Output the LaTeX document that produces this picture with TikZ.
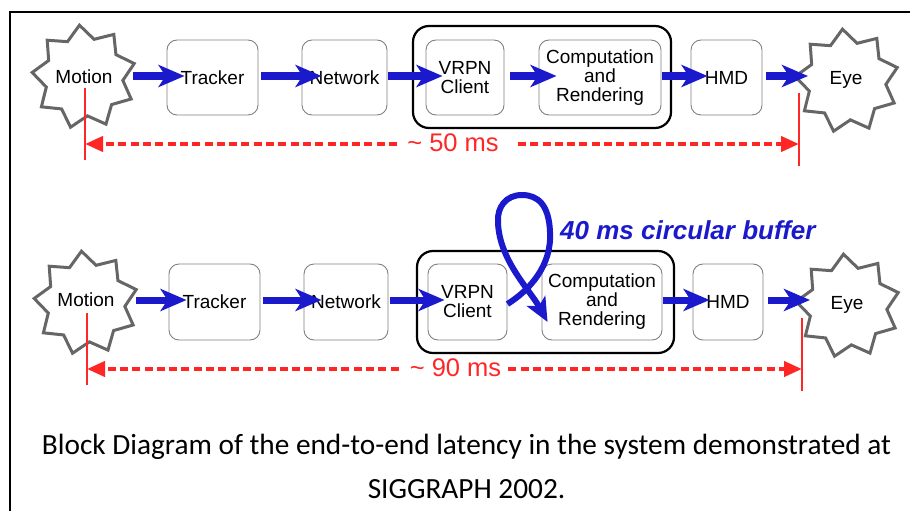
\documentclass[tikz,border=0pt]{standalone}
\usepackage{fontspec}
\setmainfont{Liberation Sans}
\newfontfamily\capfont{Carlito}
\usetikzlibrary{arrows.meta}
\definecolor{ablue}{RGB}{26,26,204}
\definecolor{ared}{RGB}{255,38,38}
\definecolor{sgray}{RGB}{102,102,102}
\definecolor{bgray}{RGB}{128,128,128}
\begin{document}
\begin{tikzpicture}[x=1pt,y=-1pt,
  box/.style={draw=bgray,line width=0.9pt,rounded corners=10pt,align=center,inner sep=0pt,font=\fontsize{19}{19}\selectfont},
  group/.style={draw=black,line width=2.2pt,rounded corners=16pt,inner sep=0pt},
  burst/.style={inner sep=0pt,font=\fontsize{19}{19}\selectfont},
  burstline/.style={draw=sgray,line width=3pt,line join=miter,miter limit=10},
  barrow/.style={draw=ablue,line width=7pt,-{Stealth[length=26pt,width=22pt,inset=7pt]}},
  rdash/.style={draw=ared,line width=4pt,dash pattern=on 8pt off 4.3pt,-{Triangle[length=18pt,width=15pt]}},
  rtick/.style={draw=ared,line width=1.6pt},
  rlab/.style={text=ared,inner sep=0pt,font=\fontsize{25.5}{25.5}\selectfont}
]
\useasboundingbox (0,0) rectangle (910,511);
% frame
\draw[line width=2pt] (10,511) -- (10,12) -- (910,12);

% ---------- row 1 ----------
\node[group,minimum width=258pt,minimum height=102pt] (o1) at (542,77) {};
\node[burst] (m1) at (84,77) {Motion};
\node[box,minimum width=91pt,minimum height=75pt] (t1) at (212.5,77.5) {Tracker};
\node[box,minimum width=85pt,minimum height=75pt] (n1) at (344.5,77.5) {Network};
\node[box,minimum width=78pt,minimum height=75pt] (v1) at (465,77.5) {VRPN\\Client};
\node[box,minimum width=122pt,minimum height=75pt] (c1) at (600,77.5) {Computation\\and\\Rendering};
\node[box,minimum width=71pt,minimum height=75pt] (h1) at (726.5,77.5) {HMD};
\node[burst] (e1) at (846,80) {Eye};

% ---------- row 2 ----------
\node[group,minimum width=257pt,minimum height=102pt] (o2) at (545.5,302) {};
\node[burst] (m2) at (86,300) {Motion};
\node[box,minimum width=91pt,minimum height=76pt] (t2) at (214.5,302) {Tracker};
\node[box,minimum width=84pt,minimum height=76pt] (n2) at (346,302) {Network};
\node[box,minimum width=79pt,minimum height=76pt] (v2) at (467.5,302) {VRPN\\Client};
\node[box,minimum width=120pt,minimum height=76pt] (c2) at (602,302) {Computation\\and\\Rendering};
\node[box,minimum width=70pt,minimum height=76pt] (h2) at (728,302) {HMD};
\node[burst] (e2) at (847,305) {Eye};

% star outlines
\foreach \cx/\cy in {84/77, 847/81, 86/303, 848/306}{
  \draw[burstline,shift={(\cx,\cy)}] plot[samples at={0,...,17},variable=\i]
    ({(45.5+6.5*cos(180*\i))*cos(95+20*\i)},{-(45.5+6.5*cos(180*\i))*sin(95+20*\i)}) -- cycle;
}

% row 1 arrows
\draw[barrow] ([xshift=49pt,yshift=1pt]m1.center) -- ([xshift=18pt,yshift=1.5pt]t1.west);
\draw[barrow] ([xshift=3pt,yshift=1.5pt]t1.east) -- ([xshift=20pt,yshift=1.5pt]n1.west);
\draw[barrow] ([xshift=1pt,yshift=1.5pt]n1.east) -- ([xshift=17pt,yshift=1.5pt]v1.west);
\draw[barrow] ([xshift=6pt,yshift=1.5pt]v1.east) -- ([xshift=18pt,yshift=1.5pt]c1.west);
\draw[barrow] ([xshift=1pt,yshift=1.5pt]c1.east) -- ([xshift=17pt,yshift=1.5pt]h1.west);
\draw[barrow] ([xshift=4pt,yshift=1.5pt]h1.east) -- ([xshift=-38pt,yshift=4pt]e1.center);

\coordinate (L1t) at (85,88);  \coordinate (L1b) at (85,160);
\coordinate (R1t) at (799,93); \coordinate (R1b) at (799,166);
\coordinate (L1) at (85,144);  \coordinate (R1) at (799,144);
\draw[rtick] (L1t) -- (L1b);
\draw[rtick] (R1t) -- (R1b);
\node[rlab] (d1) at (453,143) {\textasciitilde\ 50 ms};
\draw[rdash] ([xshift=-10pt,yshift=-1pt]d1.west) -- (L1);
\draw[rdash] ([xshift=19pt,yshift=-1pt]d1.east) -- (R1);

% row 2 arrows
\draw[barrow] ([xshift=50pt]m2.center) -- ([xshift=18pt,yshift=2pt]t2.west);
\draw[barrow] ([xshift=3pt,yshift=2pt]t2.east) -- ([xshift=18pt,yshift=2pt]n2.west);
\draw[barrow] ([xshift=2pt,yshift=2pt]n2.east) -- ([xshift=17pt,yshift=2pt]v2.west);
\draw[barrow] ([xshift=1pt,yshift=2pt]c2.east) -- ([xshift=17pt,yshift=2pt]h2.west);
\draw[barrow] ([xshift=5pt,yshift=2pt]h2.east) -- ([xshift=-37pt,yshift=5pt]e2.center);

% circular buffer loop
\draw[draw=ablue,line width=6pt,-{Stealth[length=24pt,width=21pt,inset=6pt]}]
  ([yshift=-2pt]v2.east) .. controls (530,290) and (552,265) .. (550,232)
  .. controls (549,205) and (538,195) .. (522,195)
  .. controls (506,195) and (497,207) .. (498,222)
  .. controls (499,260) and (530,290) .. ([shift={(6,20)}]c2.west);
\node[anchor=west,inner sep=0pt,text=ablue,font=\fontsize{26}{26}\selectfont\bfseries\itshape] (buf) at (560,230) {40 ms circular buffer};

\coordinate (L2t) at (87,313);  \coordinate (L2b) at (87,385);
\coordinate (R2t) at (802,318); \coordinate (R2b) at (802,391);
\coordinate (L2) at (87,369);   \coordinate (R2) at (802,369);
\draw[rtick] (L2t) -- (L2b);
\draw[rtick] (R2t) -- (R2b);
\node[rlab] (d2) at (455.5,368) {\textasciitilde\ 90 ms};
\draw[rdash] ([xshift=-11pt,yshift=-1pt]d2.west) -- (L2);
\draw[rdash] ([xshift=7pt,yshift=-1pt]d2.east) -- (R2);

% caption
\node[align=center,inner sep=0pt,font=\capfont\fontsize{29.3}{44}\selectfont] (cap) at (466.5,466)
  {Block Diagram of the end-to-end latency in the system demonstrated at\\SIGGRAPH 2002.};
\end{tikzpicture}
\end{document}
